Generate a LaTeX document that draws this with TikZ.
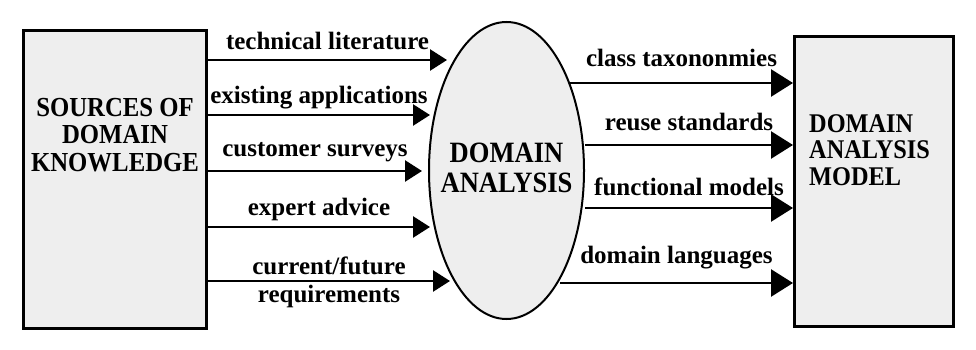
\documentclass[tikz,border=0pt]{standalone}
\usepackage{fontspec}
\setmainfont{Liberation Serif}
\newfontfamily\blockfont{Liberation Serif}[FakeStretch=0.9]
\usetikzlibrary{arrows.meta,positioning,shapes.geometric}
\definecolor{dafill}{HTML}{EEEEEE}

\begin{document}
\begin{tikzpicture}[x=1pt,y=-1pt,
  box/.style={draw,line width=3pt,fill=dafill,minimum width=183pt,minimum height=298pt,inner sep=0pt},
  oval/.style={ellipse,draw,line width=2pt,fill=dafill,minimum width=155pt,minimum height=297pt,inner sep=0pt},
  txt/.style={font=\blockfont\bfseries\fontsize{27.5}{27.5}\selectfont,align=center,inner sep=0pt},
  lbl/.style={font=\bfseries\fontsize{25}{28}\selectfont,inner sep=0pt,anchor=base},
  arr/.style={-{Triangle[length=17pt,width=21pt]},line width=2.6pt},
  bigarr/.style={-{Triangle[length=22pt,width=27pt]},line width=2.6pt}]
  \useasboundingbox (0,0) rectangle (976,350);
  % the three blocks
  \node[box] (src) at (115,179.5) {};
  \node[oval,right=220pt of src,yshift=9pt] (ana) {};
  \node[box,minimum width=159pt,minimum height=290pt,right=208pt of ana,yshift=-11pt] (mdl) {};
  \node[txt,below=69pt of src.north] (srctxt) {SOURCES OF\\DOMAIN\\KNOWLEDGE};
  \node[txt,font=\blockfont\bfseries\fontsize{29.5}{30}\selectfont,yshift=2.5pt] (anatxt) at (ana) {DOMAIN\\ANALYSIS};
  \node[txt,align=left,font=\blockfont\bfseries\fontsize{27}{26.5}\selectfont,
    below right=79pt and 16pt of mdl.north west] (mdltxt) {DOMAIN\\ANALYSIS\\MODEL};
  % inputs
  \coordinate (in1) at (447,60);
  \coordinate (in2) at (430,115);
  \coordinate (in3) at (422,171);
  \coordinate (in4) at (430,227);
  \coordinate (in5) at (450,281);
  \draw[arr] (src.east |- in1) -- node[lbl,yshift=10pt] {technical literature} (in1);
  \draw[arr] (src.east |- in2) -- node[lbl,yshift=12pt] {existing applications} (in2);
  \draw[arr] (src.east |- in3) -- node[lbl,yshift=15pt] {customer surveys} (in3);
  \draw[arr] (src.east |- in4) -- node[lbl,yshift=12pt] {expert advice} (in4);
  \draw[arr] (src.east |- in5) -- node[lbl,anchor=center,align=center,yshift=-1pt]
    {current/future\\requirements} (in5);
  % outputs
  \coordinate (out1) at (570,83);
  \coordinate (out2) at (585,145);
  \coordinate (out3) at (585,208);
  \coordinate (out4) at (560,283);
  \draw[bigarr] (out1) -- node[lbl,yshift=16pt] {class taxononmies} (out1 -| mdl.west);
  \draw[bigarr] (out2) -- node[lbl,yshift=15pt] {reuse standards} (out2 -| mdl.west);
  \draw[bigarr] (out3) -- node[lbl,yshift=13pt] {functional models} (out3 -| mdl.west);
  \draw[bigarr] (out4) -- node[lbl,yshift=20pt] {domain languages} (out4 -| mdl.west);
\end{tikzpicture}
\end{document}
